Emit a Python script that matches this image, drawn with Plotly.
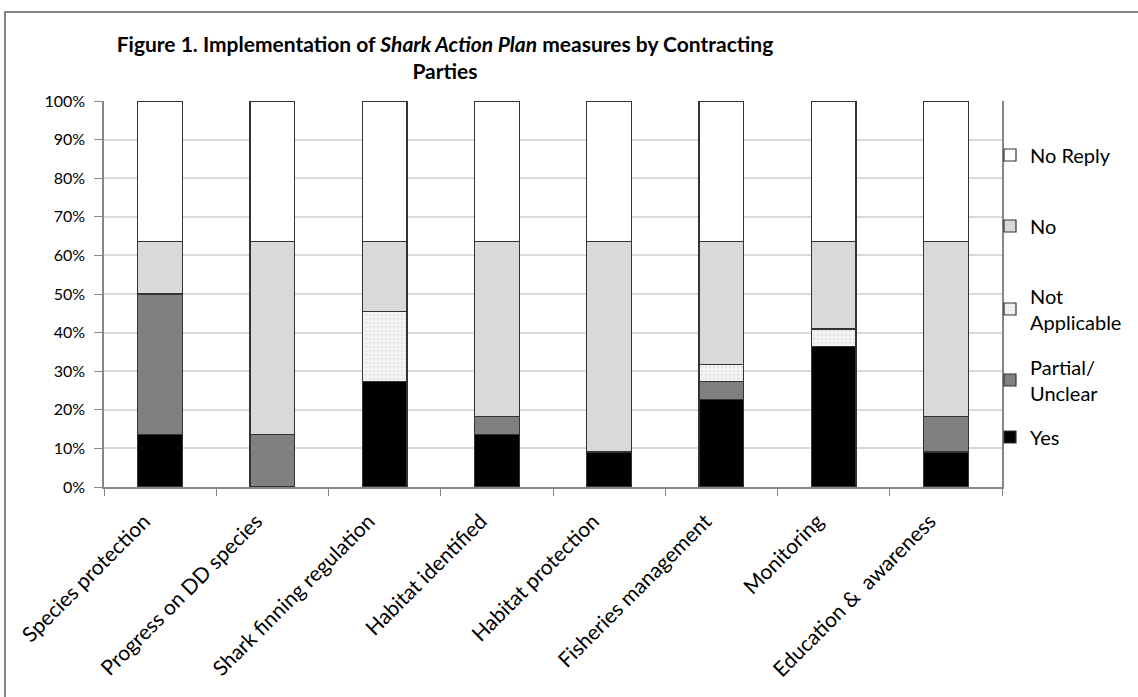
import plotly.graph_objects as go

categories = ["Species protection", "Progress on DD species", "Shark finning regulation",
              "Habitat identified", "Habitat protection", "Fisheries management",
              "Monitoring", "Education &  awareness"]
# number of Contracting Parties (out of 22) per response
yes = [3, 0, 6, 3, 2, 5, 8, 2]
partial = [8, 3, 0, 1, 0, 1, 0, 2]
not_applicable = [0, 0, 4, 0, 0, 1, 1, 0]
no = [3, 11, 4, 10, 12, 7, 5, 10]
no_reply = [8, 8, 8, 8, 8, 8, 8, 8]
total = 22

def pct(v):
    return [x / total * 100 for x in v]

FONT = "Lato"
W, H = 1138, 697
L, R, T, B = 104, 1002, 101, 487
pw, ph = R - L, B - T

def px2x(x):
    return (x - L) / pw

def px2y(y):
    return 1 - (y - T) / ph

fig = go.Figure()
series = [
    ("Yes", yes, "#000000", None, "legend6", 437),
    ("Partial/<br>Unclear", partial, "#808080", None, "legend5", 380),
    ("Not<br>Applicable", not_applicable, "#f3f3f3", ".", "legend4", 309),
    ("No", no, "#d9d9d9", None, "legend3", 226),
    ("No Reply", no_reply, "#ffffff", None, "legend2", 155),
]
legends = {}
for name, vals, col, pat, lg, ly in series:
    marker = dict(color=col, line=dict(color="#333333", width=1.2))
    if pat:
        marker["pattern"] = dict(shape=".", fgcolor="#d0d0d0", bgcolor=col, size=4, solidity=0.25)
    fig.add_trace(go.Bar(x=categories, y=pct(vals), name=name, marker=marker, legend=lg,
                         showlegend=True))
    legends[lg] = dict(x=px2x(990), xanchor="left", y=px2y(ly), yanchor="middle",
                       font=dict(family=FONT, size=20, color="#000000"), itemwidth=30,
                       bgcolor="rgba(0,0,0,0)", visible=True)

fig.update_layout(
    width=W, height=H,
    barmode="stack", bargap=0.6,
    plot_bgcolor="white", paper_bgcolor="white",
    margin=dict(l=L, r=W - R, t=T, b=H - B, autoexpand=False),
    font=dict(family=FONT, size=16, color="#000000"),
    title=dict(text="<b>Figure 1. Implementation of <i>Shark Action Plan</i> measures by Contracting<br>Parties</b>",
               x=445 / W, xanchor="center", xref="container",
               y=1 - 52 / H, yanchor="top", yref="container",
               font=dict(family=FONT, size=21, color="#000000")),
    xaxis=dict(tickangle=-45, showline=True, linecolor="#868686", linewidth=1.5,
               ticks="outside", tickson="boundaries", ticklen=7, tickcolor="#868686",
               showgrid=False, tickfont=dict(family=FONT, size=21),
               ticklabelstandoff=12, ticklabelshift=-16),
    yaxis=dict(range=[0, 100], dtick=10, ticksuffix="%", showline=True, linecolor="#868686",
               linewidth=1.5, mirror=True, ticks="outside", ticklen=8, tickcolor="#868686",
               showgrid=True, gridcolor="#d9d9d9", gridwidth=1.5,
               tickfont=dict(family=FONT, size=16), ticklabelstandoff=6),
    shapes=[dict(type="rect", xref="paper", yref="paper",
                 x0=px2x(5), y0=px2y(720), x1=px2x(1160), y1=px2y(12),
                 line=dict(color="#868686", width=2), layer="below")],
    **legends,
)

fig.write_html("out.html")
